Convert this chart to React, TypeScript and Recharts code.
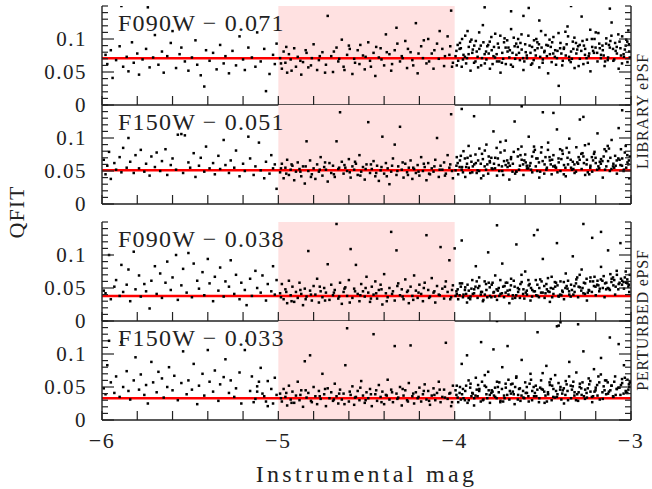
import React from "react";
import { ScatterChart, Scatter, XAxis, YAxis, ReferenceArea, ReferenceLine } from "recharts";

// x ticks every 0.2 mag, labels on the integers only
const xTicks = [-6, -5.8, -5.6, -5.4, -5.2, -5, -4.8, -4.6, -4.4, -4.2, -4, -3.8, -3.6, -3.4, -3.2, -3];
const yTicks = [0, 0.01, 0.02, 0.03, 0.04, 0.05, 0.06, 0.07, 0.08, 0.09, 0.1, 0.11, 0.12, 0.13, 0.14, 0.15];
const yLabelTicks = [0, 0.05, 0.1];
const yLabelText = ["0", "0.05", "0.1"];

const filters = ["F090W", "F150W", "F090W", "F150W"];
const fits = [0.071, 0.051, 0.038, 0.033];
const psfNames = ["LIBRARY ePSF", "PERTURBED ePSF"];
const shade = [-5, -4];

type Pt = [number, number];

const libF090W: Pt[] = [
  [-5.98, 0.076], [-5.97, 0.062], [-5.95, 0.083], [-5.94, 0.041], [-5.92, 0.068], [-5.9, 0.089], [-5.89, 0.15], [-5.88, 0.058], [-5.86, 0.073], [-5.85, 0.051],
  [-5.83, 0.095], [-5.82, 0.064], [-5.8, 0.078], [-5.79, 0.046], [-5.77, 0.069], [-5.75, 0.085], [-5.74, 0.148], [-5.73, 0.057], [-5.71, 0.072], [-5.7, 0.106],
  [-5.68, 0.061], [-5.66, 0.081], [-5.65, 0.049], [-5.63, 0.074], [-5.61, 0.094], [-5.6, 0.112], [-5.58, 0.056], [-5.56, 0.077], [-5.55, 0.087], [-5.53, 0.066],
  [-5.51, 0.052], [-5.49, 0.072], [-5.47, 0.098], [-5.46, 0.061], [-5.44, 0.045], [-5.42, 0.028], [-5.41, 0.083], [-5.39, 0.067], [-5.37, 0.079], [-5.35, 0.054],
  [-5.33, 0.091], [-5.31, 0.063], [-5.3, 0.074], [-5.28, 0.048], [-5.26, 0.082], [-5.24, 0.06], [-5.22, 0.104], [-5.2, 0.069], [-5.19, 0.053], [-5.17, 0.087],
  [-5.15, 0.072], [-5.13, 0.058], [-5.12, 0.11], [-5.1, 0.066], [-5.08, 0.085], [-5.07, 0.021], [-5.05, 0.047], [-5.03, 0.076], [-5.02, 0.062], [-5.01, 0.093],
  [-4.99, 0.071], [-4.98, 0.055], [-4.97, 0.081], [-4.96, 0.064], [-4.95, 0.049], [-4.94, 0.077], [-4.93, 0.069], [-4.91, 0.086], [-4.9, 0.058], [-4.89, 0.073],
  [-4.87, 0.046], [-4.86, 0.065], [-4.84, 0.079], [-4.83, 0.057], [-4.81, 0.071], [-4.8, 0.092], [-4.78, 0.053], [-4.77, 0.068], [-4.75, 0.08], [-4.73, 0.061],
  [-4.72, 0.135], [-4.7, 0.074], [-4.69, 0.05], [-4.67, 0.087], [-4.66, 0.066], [-4.64, 0.099], [-4.63, 0.058], [-4.61, 0.076], [-4.6, 0.09], [-4.58, 0.047],
  [-4.57, 0.07], [-4.55, 0.083], [-4.54, 0.062], [-4.52, 0.075], [-4.51, 0.054], [-4.49, 0.095], [-4.48, 0.067], [-4.46, 0.079], [-4.45, 0.044], [-4.43, 0.072],
  [-4.42, 0.086], [-4.4, 0.06], [-4.39, 0.107], [-4.37, 0.077], [-4.36, 0.052], [-4.34, 0.083], [-4.33, 0.117], [-4.31, 0.066], [-4.3, 0.074], [-4.28, 0.097],
  [-4.27, 0.056], [-4.25, 0.08], [-4.24, 0.068], [-4.22, 0.124], [-4.21, 0.048], [-4.19, 0.089], [-4.18, 0.071], [-4.16, 0.063], [-4.15, 0.1], [-4.13, 0.078],
  [-4.12, 0.055], [-4.1, 0.093], [-4.09, 0.07], [-4.07, 0.085], [-4.06, 0.059], [-4.04, 0.104], [-4.03, 0.076], [-4.02, 0.143], [-4.01, 0.064],
  [-4.985, 0.063], [-4.955, 0.088], [-4.925, 0.052], [-4.875, 0.067], [-4.845, 0.083], [-4.815, 0.06], [-4.765, 0.074], [-4.735, 0.049], [-4.685, 0.081], [-4.655, 0.07],
  [-4.625, 0.053], [-4.595, 0.085], [-4.565, 0.064], [-4.535, 0.091], [-4.505, 0.073], [-4.475, 0.058], [-4.445, 0.088], [-4.415, 0.069], [-4.385, 0.08], [-4.355, 0.062],
  [-4.325, 0.093], [-4.295, 0.071], [-4.265, 0.085], [-4.235, 0.06], [-4.205, 0.078], [-4.175, 0.098], [-4.145, 0.066], [-4.115, 0.083], [-4.085, 0.112], [-4.055, 0.074],
  [-4.025, 0.089], [-4.015, 0.058],
  [-3.99, 0.082], [-3.98, 0.067], [-3.97, 0.094], [-3.96, 0.058], [-3.95, 0.076], [-3.94, 0.105], [-3.93, 0.071], [-3.92, 0.088], [-3.91, 0.052], [-3.9, 0.079],
  [-3.89, 0.064], [-3.88, 0.097], [-3.87, 0.073], [-3.86, 0.085], [-3.85, 0.06], [-3.84, 0.121], [-3.83, 0.077], [-3.82, 0.069], [-3.81, 0.091], [-3.8, 0.055],
  [-3.79, 0.083], [-3.78, 0.074], [-3.77, 0.108], [-3.76, 0.066], [-3.75, 0.087], [-3.74, 0.049], [-3.73, 0.079], [-3.72, 0.095], [-3.71, 0.062], [-3.7, 0.081],
  [-3.69, 0.072], [-3.68, 0.115], [-3.67, 0.058], [-3.66, 0.089], [-3.65, 0.076], [-3.64, 0.1], [-3.63, 0.068], [-3.62, 0.084], [-3.61, 0.053], [-3.6, 0.092],
  [-3.59, 0.071], [-3.58, 0.147], [-3.57, 0.079], [-3.56, 0.063], [-3.55, 0.098], [-3.54, 0.075], [-3.53, 0.086], [-3.52, 0.057], [-3.51, 0.112], [-3.5, 0.069],
  [-3.49, 0.082], [-3.48, 0.091], [-3.47, 0.048], [-3.46, 0.077], [-3.45, 0.065], [-3.44, 0.103], [-3.43, 0.083], [-3.42, 0.071], [-3.41, 0.029], [-3.4, 0.094],
  [-3.39, 0.06], [-3.38, 0.087], [-3.37, 0.075], [-3.36, 0.119], [-3.35, 0.068], [-3.34, 0.081], [-3.33, 0.096], [-3.32, 0.056], [-3.31, 0.078], [-3.3, 0.089],
  [-3.29, 0.07], [-3.28, 0.134], [-3.27, 0.062], [-3.26, 0.085], [-3.25, 0.099], [-3.24, 0.074], [-3.23, 0.051], [-3.22, 0.088], [-3.21, 0.079], [-3.2, 0.11],
  [-3.19, 0.066], [-3.18, 0.093], [-3.17, 0.076], [-3.16, 0.083], [-3.15, 0.059], [-3.14, 0.101], [-3.13, 0.072], [-3.12, 0.087], [-3.11, 0.125], [-3.1, 0.067],
  [-3.09, 0.094], [-3.08, 0.078], [-3.07, 0.055], [-3.06, 0.086], [-3.05, 0.104], [-3.04, 0.073], [-3.03, 0.09], [-3.02, 0.065], [-3.01, 0.081],
  [-3.995, 0.074], [-3.965, 0.086], [-3.935, 0.063], [-3.905, 0.099], [-3.875, 0.081], [-3.845, 0.071], [-3.815, 0.089], [-3.785, 0.062], [-3.755, 0.093], [-3.725, 0.07],
  [-3.695, 0.087], [-3.665, 0.102], [-3.635, 0.079], [-3.605, 0.066], [-3.575, 0.09], [-3.545, 0.083], [-3.515, 0.073], [-3.485, 0.106], [-3.455, 0.088], [-3.425, 0.061],
  [-3.395, 0.078], [-3.365, 0.092], [-3.335, 0.07], [-3.305, 0.084], [-3.275, 0.097], [-3.245, 0.064], [-3.215, 0.082], [-3.185, 0.109], [-3.155, 0.075], [-3.125, 0.091],
  [-3.095, 0.069], [-3.065, 0.096], [-3.035, 0.084], [-3.015, 0.113],
  [-3.983, 0.091], [-3.953, 0.069], [-3.927, 0.112], [-3.897, 0.084], [-3.867, 0.057], [-3.837, 0.095], [-3.807, 0.078], [-3.777, 0.088], [-3.747, 0.066], [-3.717, 0.101],
  [-3.687, 0.083], [-3.657, 0.07], [-3.627, 0.094], [-3.597, 0.08], [-3.567, 0.061], [-3.537, 0.1], [-3.507, 0.087], [-3.477, 0.074], [-3.447, 0.095], [-3.417, 0.082],
  [-3.387, 0.067], [-3.357, 0.104], [-3.327, 0.085], [-3.297, 0.059], [-3.267, 0.09], [-3.237, 0.078], [-3.207, 0.1], [-3.177, 0.086], [-3.147, 0.066], [-3.117, 0.097],
  [-3.087, 0.082], [-3.057, 0.075], [-3.027, 0.099], [-3.007, 0.072],
  [-3.988, 0.06], [-3.958, 0.1], [-3.921, 0.077], [-3.889, 0.09], [-3.861, 0.11], [-3.829, 0.063], [-3.801, 0.096], [-3.771, 0.072], [-3.741, 0.105], [-3.711, 0.087],
  [-3.681, 0.061], [-3.651, 0.093], [-3.621, 0.107], [-3.591, 0.075], [-3.561, 0.088], [-3.531, 0.095], [-3.501, 0.064], [-3.471, 0.09], [-3.441, 0.078], [-3.411, 0.109],
  [-3.381, 0.085], [-3.351, 0.073], [-3.321, 0.102], [-3.291, 0.091], [-3.261, 0.076], [-3.231, 0.114], [-3.201, 0.087], [-3.171, 0.071], [-3.141, 0.093], [-3.111, 0.105],
  [-3.081, 0.088], [-3.051, 0.063], [-3.021, 0.096],
  [-3.972, 0.085], [-3.942, 0.073], [-3.912, 0.096], [-3.882, 0.066], [-3.852, 0.09], [-3.822, 0.081], [-3.792, 0.103], [-3.762, 0.077], [-3.732, 0.064], [-3.702, 0.098],
  [-3.672, 0.079], [-3.642, 0.088], [-3.612, 0.071], [-3.582, 0.105], [-3.552, 0.068], [-3.522, 0.092], [-3.492, 0.08], [-3.462, 0.099], [-3.432, 0.073], [-3.402, 0.086],
  [-3.372, 0.111], [-3.342, 0.065], [-3.312, 0.094], [-3.282, 0.082], [-3.252, 0.071], [-3.222, 0.1], [-3.192, 0.079], [-3.162, 0.09], [-3.132, 0.068], [-3.102, 0.085],
  [-3.072, 0.107], [-3.042, 0.077], [-3.012, 0.092],
  [-3.83, 0.148], [-3.68, 0.142], [-3.34, 0.15], [-3.12, 0.146], [-3.61, 0.135], [-3.52, 0.128],
];

const libF150W: Pt[] = [
  [-5.99, 0.067], [-5.98, 0.045], [-5.97, 0.058], [-5.96, 0.079], [-5.95, 0.038], [-5.93, 0.062], [-5.92, 0.052], [-5.9, 0.071], [-5.89, 0.048], [-5.88, 0.085],
  [-5.86, 0.055], [-5.85, 0.1], [-5.84, 0.064], [-5.82, 0.047], [-5.81, 0.074], [-5.79, 0.054], [-5.78, 0.082], [-5.76, 0.049], [-5.75, 0.061], [-5.73, 0.043],
  [-5.72, 0.072], [-5.7, 0.056], [-5.69, 0.078], [-5.67, 0.05], [-5.66, 0.065], [-5.64, 0.083], [-5.63, 0.044], [-5.61, 0.059], [-5.6, 0.069], [-5.58, 0.052],
  [-5.57, 0.105], [-5.55, 0.106], [-5.54, 0.047], [-5.53, 0.104], [-5.51, 0.063], [-5.5, 0.055], [-5.48, 0.077], [-5.47, 0.041], [-5.45, 0.058], [-5.44, 0.07],
  [-5.42, 0.049], [-5.41, 0.087], [-5.39, 0.054], [-5.37, 0.062], [-5.36, 0.045], [-5.34, 0.073], [-5.33, 0.053], [-5.31, 0.097], [-5.3, 0.059], [-5.28, 0.047],
  [-5.27, 0.066], [-5.25, 0.055], [-5.24, 0.081], [-5.22, 0.042], [-5.2, 0.061], [-5.19, 0.05], [-5.17, 0.102], [-5.16, 0.069], [-5.14, 0.044], [-5.13, 0.057],
  [-5.11, 0.093], [-5.1, 0.051], [-5.08, 0.039], [-5.07, 0.064], [-5.05, 0.046], [-5.04, 0.074], [-5.03, 0.054], [-5.02, 0.06], [-5.01, 0.023],
  [-4.99, 0.048], [-4.98, 0.061], [-4.97, 0.039], [-4.96, 0.055], [-4.95, 0.067], [-4.94, 0.044], [-4.93, 0.052], [-4.92, 0.058], [-4.91, 0.036], [-4.9, 0.049],
  [-4.89, 0.063], [-4.88, 0.053], [-4.87, 0.042], [-4.86, 0.057], [-4.85, 0.031], [-4.84, 0.095], [-4.83, 0.05], [-4.82, 0.066], [-4.81, 0.045], [-4.8, 0.054],
  [-4.79, 0.038], [-4.78, 0.06], [-4.77, 0.049], [-4.76, 0.071], [-4.75, 0.043], [-4.74, 0.056], [-4.73, 0.052], [-4.72, 0.034], [-4.71, 0.062], [-4.7, 0.047],
  [-4.69, 0.058], [-4.68, 0.041], [-4.67, 0.095], [-4.66, 0.053], [-4.65, 0.139], [-4.64, 0.064], [-4.63, 0.046], [-4.62, 0.055], [-4.61, 0.05], [-4.6, 0.068],
  [-4.59, 0.04], [-4.58, 0.057], [-4.57, 0.052], [-4.56, 0.061], [-4.55, 0.044], [-4.54, 0.074], [-4.53, 0.049], [-4.52, 0.056], [-4.51, 0.037], [-4.5, 0.06],
  [-4.49, 0.124], [-4.48, 0.047], [-4.47, 0.053], [-4.46, 0.065], [-4.45, 0.042], [-4.44, 0.058], [-4.43, 0.035], [-4.42, 0.051], [-4.41, 0.102], [-4.4, 0.046],
  [-4.39, 0.062], [-4.38, 0.054], [-4.37, 0.03], [-4.36, 0.049], [-4.35, 0.069], [-4.34, 0.09], [-4.33, 0.044], [-4.32, 0.057], [-4.31, 0.117], [-4.3, 0.052],
  [-4.29, 0.04], [-4.28, 0.061], [-4.27, 0.048], [-4.26, 0.055], [-4.25, 0.066], [-4.24, 0.038], [-4.23, 0.053], [-4.22, 0.047], [-4.21, 0.059], [-4.2, 0.043],
  [-4.19, 0.071], [-4.18, 0.05], [-4.17, 0.056], [-4.16, 0.036], [-4.15, 0.062], [-4.14, 0.045], [-4.13, 0.054], [-4.12, 0.049], [-4.11, 0.067], [-4.1, 0.1],
  [-4.09, 0.041], [-4.08, 0.058], [-4.07, 0.052], [-4.06, 0.063], [-4.05, 0.046], [-4.04, 0.074], [-4.03, 0.055], [-4.02, 0.136], [-4.01, 0.039],
  [-4.985, 0.054], [-4.955, 0.046], [-4.925, 0.06], [-4.875, 0.049], [-4.845, 0.057], [-4.815, 0.041], [-4.765, 0.052], [-4.735, 0.063], [-4.685, 0.045], [-4.655, 0.055],
  [-4.625, 0.059], [-4.595, 0.048], [-4.565, 0.064], [-4.535, 0.043], [-4.505, 0.053], [-4.475, 0.06], [-4.445, 0.047], [-4.415, 0.056], [-4.385, 0.042], [-4.355, 0.058],
  [-4.325, 0.05], [-4.295, 0.063], [-4.265, 0.044], [-4.235, 0.055], [-4.205, 0.049], [-4.175, 0.061], [-4.145, 0.046], [-4.115, 0.057], [-4.085, 0.052], [-4.055, 0.043],
  [-4.025, 0.06], [-4.015, 0.05],
  [-3.99, 0.058], [-3.98, 0.045], [-3.97, 0.066], [-3.96, 0.052], [-3.95, 0.08], [-3.94, 0.041], [-3.93, 0.061], [-3.92, 0.055], [-3.91, 0.073], [-3.9, 0.048],
  [-3.89, 0.133], [-3.88, 0.062], [-3.87, 0.051], [-3.86, 0.084], [-3.85, 0.039], [-3.84, 0.068], [-3.83, 0.057], [-3.82, 0.09], [-3.81, 0.046], [-3.8, 0.063],
  [-3.79, 0.054], [-3.78, 0.11], [-3.77, 0.07], [-3.76, 0.043], [-3.75, 0.059], [-3.74, 0.078], [-3.73, 0.05], [-3.72, 0.065], [-3.71, 0.096], [-3.7, 0.056],
  [-3.69, 0.037], [-3.68, 0.071], [-3.67, 0.061], [-3.66, 0.125], [-3.65, 0.049], [-3.64, 0.083], [-3.63, 0.058], [-3.62, 0.067], [-3.61, 0.044], [-3.6, 0.075],
  [-3.59, 0.054], [-3.58, 0.102], [-3.57, 0.062], [-3.56, 0.048], [-3.55, 0.087], [-3.54, 0.057], [-3.53, 0.069], [-3.52, 0.04], [-3.51, 0.078], [-3.5, 0.139],
  [-3.49, 0.06], [-3.48, 0.052], [-3.47, 0.093], [-3.46, 0.066], [-3.45, 0.045], [-3.44, 0.074], [-3.43, 0.056], [-3.42, 0.113], [-3.41, 0.063], [-3.4, 0.05],
  [-3.39, 0.081], [-3.38, 0.059], [-3.37, 0.042], [-3.36, 0.07], [-3.35, 0.099], [-3.34, 0.055], [-3.33, 0.064], [-3.32, 0.047], [-3.31, 0.086], [-3.3, 0.061],
  [-3.29, 0.128], [-3.28, 0.053], [-3.27, 0.072], [-3.26, 0.044], [-3.25, 0.067], [-3.24, 0.091], [-3.23, 0.058], [-3.22, 0.049], [-3.21, 0.076], [-3.2, 0.062],
  [-3.19, 0.107], [-3.18, 0.054], [-3.17, 0.068], [-3.16, 0.04], [-3.15, 0.083], [-3.14, 0.057], [-3.13, 0.065], [-3.12, 0.05], [-3.11, 0.097], [-3.1, 0.061],
  [-3.09, 0.073], [-3.08, 0.046], [-3.07, 0.115], [-3.06, 0.059], [-3.05, 0.069], [-3.04, 0.052], [-3.03, 0.088], [-3.02, 0.063], [-3.01, 0.039],
  [-3.995, 0.051], [-3.965, 0.073], [-3.935, 0.056], [-3.905, 0.064], [-3.875, 0.047], [-3.845, 0.076], [-3.815, 0.06], [-3.785, 0.053], [-3.755, 0.069], [-3.725, 0.044],
  [-3.695, 0.062], [-3.665, 0.079], [-3.635, 0.052], [-3.605, 0.066], [-3.575, 0.058], [-3.545, 0.082], [-3.515, 0.049], [-3.485, 0.071], [-3.455, 0.06], [-3.425, 0.055],
  [-3.395, 0.068], [-3.365, 0.085], [-3.335, 0.052], [-3.305, 0.063], [-3.275, 0.077], [-3.245, 0.048], [-3.215, 0.066], [-3.185, 0.057], [-3.155, 0.072], [-3.125, 0.084],
  [-3.095, 0.055], [-3.065, 0.067], [-3.035, 0.078], [-3.015, 0.06],
  [-3.983, 0.062], [-3.953, 0.048], [-3.927, 0.07], [-3.897, 0.057], [-3.867, 0.066], [-3.837, 0.043], [-3.807, 0.072], [-3.777, 0.061], [-3.747, 0.05], [-3.717, 0.081],
  [-3.687, 0.058], [-3.657, 0.046], [-3.627, 0.074], [-3.597, 0.063], [-3.567, 0.052], [-3.537, 0.069], [-3.507, 0.086], [-3.477, 0.055], [-3.447, 0.067], [-3.417, 0.048],
  [-3.387, 0.076], [-3.357, 0.06], [-3.327, 0.053], [-3.297, 0.071], [-3.267, 0.062], [-3.237, 0.045], [-3.207, 0.079], [-3.177, 0.064], [-3.147, 0.052], [-3.117, 0.07],
  [-3.087, 0.058], [-3.057, 0.083], [-3.027, 0.055], [-3.007, 0.072],
  [-3.988, 0.071], [-3.958, 0.056], [-3.921, 0.088], [-3.889, 0.06], [-3.861, 0.05], [-3.829, 0.081], [-3.801, 0.065], [-3.771, 0.054], [-3.741, 0.094], [-3.711, 0.059],
  [-3.681, 0.068], [-3.651, 0.049], [-3.621, 0.087], [-3.591, 0.058], [-3.561, 0.072], [-3.531, 0.05], [-3.501, 0.065], [-3.471, 0.082], [-3.441, 0.057], [-3.411, 0.069],
  [-3.381, 0.045], [-3.351, 0.078], [-3.321, 0.06], [-3.291, 0.067], [-3.261, 0.089], [-3.231, 0.055], [-3.201, 0.07], [-3.171, 0.061], [-3.141, 0.08], [-3.111, 0.053],
  [-3.081, 0.066], [-3.051, 0.058], [-3.021, 0.074],
  [-3.972, 0.056], [-3.942, 0.069], [-3.912, 0.047], [-3.882, 0.075], [-3.852, 0.061], [-3.822, 0.052], [-3.792, 0.07], [-3.762, 0.085], [-3.732, 0.057], [-3.702, 0.066],
  [-3.672, 0.049], [-3.642, 0.072], [-3.612, 0.06], [-3.582, 0.054], [-3.552, 0.079], [-3.522, 0.063], [-3.492, 0.046], [-3.462, 0.071], [-3.432, 0.058], [-3.402, 0.083],
  [-3.372, 0.055], [-3.342, 0.067], [-3.312, 0.049], [-3.282, 0.076], [-3.252, 0.06], [-3.222, 0.071], [-3.192, 0.052], [-3.162, 0.065], [-3.132, 0.088], [-3.102, 0.057],
  [-3.072, 0.069], [-3.042, 0.05], [-3.012, 0.066],
  [-3.96, 0.144], [-3.62, 0.148], [-3.44, 0.138], [-3.27, 0.132], [-3.05, 0.142],
];

const pertF090W: Pt[] = [
  [-5.99, 0.046], [-5.98, 0.042], [-5.96, 0.1], [-5.95, 0.033], [-5.93, 0.052], [-5.92, 0.062], [-5.9, 0.038], [-5.89, 0.085], [-5.88, 0.044], [-5.86, 0.055],
  [-5.85, 0.078], [-5.84, 0.03], [-5.82, 0.105], [-5.81, 0.048], [-5.79, 0.069], [-5.78, 0.037], [-5.76, 0.056], [-5.75, 0.045], [-5.73, 0.019], [-5.72, 0.061],
  [-5.7, 0.083], [-5.69, 0.041], [-5.67, 0.072], [-5.66, 0.035], [-5.64, 0.058], [-5.63, 0.09], [-5.61, 0.047], [-5.6, 0.066], [-5.58, 0.1], [-5.57, 0.032],
  [-5.55, 0.054], [-5.54, 0.079], [-5.52, 0.043], [-5.51, 0.103], [-5.49, 0.036], [-5.48, 0.087], [-5.46, 0.061], [-5.45, 0.049], [-5.43, 0.074], [-5.42, 0.039],
  [-5.4, 0.094], [-5.39, 0.057], [-5.37, 0.03], [-5.36, 0.067], [-5.34, 0.046], [-5.33, 0.081], [-5.31, 0.037], [-5.3, 0.06], [-5.28, 0.052], [-5.27, 0.092],
  [-5.25, 0.041], [-5.24, 0.07], [-5.22, 0.033], [-5.21, 0.058], [-5.19, 0.047], [-5.18, 0.024], [-5.16, 0.064], [-5.15, 0.038], [-5.13, 0.076], [-5.12, 0.05],
  [-5.1, 0.043], [-5.09, 0.069], [-5.07, 0.031], [-5.06, 0.056], [-5.04, 0.045], [-5.03, 0.083], [-5.02, 0.04], [-5.01, 0.062],
  [-4.99, 0.042], [-4.98, 0.056], [-4.97, 0.033], [-4.96, 0.048], [-4.95, 0.027], [-4.94, 0.061], [-4.93, 0.039], [-4.92, 0.052], [-4.91, 0.029], [-4.9, 0.044],
  [-4.89, 0.035], [-4.88, 0.058], [-4.87, 0.041], [-4.86, 0.024], [-4.85, 0.049], [-4.84, 0.037], [-4.83, 0.106], [-4.82, 0.046], [-4.81, 0.031], [-4.8, 0.053],
  [-4.79, 0.04], [-4.78, 0.064], [-4.77, 0.028], [-4.76, 0.045], [-4.75, 0.036], [-4.74, 0.05], [-4.73, 0.043], [-4.72, 0.086], [-4.71, 0.032], [-4.7, 0.055],
  [-4.69, 0.039], [-4.68, 0.047], [-4.67, 0.147], [-4.66, 0.034], [-4.65, 0.058], [-4.64, 0.026], [-4.63, 0.044], [-4.62, 0.051], [-4.61, 0.038], [-4.6, 0.062],
  [-4.59, 0.109], [-4.58, 0.035], [-4.57, 0.049], [-4.56, 0.085], [-4.55, 0.041], [-4.54, 0.03], [-4.53, 0.056], [-4.52, 0.045], [-4.51, 0.037], [-4.5, 0.067],
  [-4.49, 0.043], [-4.48, 0.029], [-4.47, 0.052], [-4.46, 0.04], [-4.45, 0.06], [-4.44, 0.034], [-4.43, 0.047], [-4.42, 0.055], [-4.41, 0.025], [-4.4, 0.071],
  [-4.39, 0.042], [-4.38, 0.036], [-4.37, 0.05], [-4.36, 0.135], [-4.35, 0.045], [-4.34, 0.031], [-4.33, 0.107], [-4.32, 0.057], [-4.31, 0.039], [-4.3, 0.048],
  [-4.29, 0.033], [-4.28, 0.063], [-4.27, 0.044], [-4.26, 0.027], [-4.25, 0.052], [-4.24, 0.038], [-4.23, 0.069], [-4.22, 0.046], [-4.21, 0.035], [-4.2, 0.055],
  [-4.19, 0.041], [-4.18, 0.03], [-4.17, 0.058], [-4.16, 0.13], [-4.15, 0.047], [-4.14, 0.037], [-4.13, 0.065], [-4.12, 0.043], [-4.11, 0.028], [-4.1, 0.053],
  [-4.09, 0.04], [-4.08, 0.112], [-4.07, 0.049], [-4.06, 0.034], [-4.05, 0.06], [-4.04, 0.044], [-4.03, 0.092], [-4.02, 0.036], [-4.01, 0.054], [-4.0, 0.11],
  [-4.985, 0.036], [-4.955, 0.044], [-4.925, 0.03], [-4.875, 0.047], [-4.845, 0.033], [-4.815, 0.04], [-4.765, 0.052], [-4.735, 0.031], [-4.685, 0.043], [-4.655, 0.037],
  [-4.625, 0.049], [-4.595, 0.028], [-4.565, 0.045], [-4.535, 0.039], [-4.505, 0.05], [-4.475, 0.034], [-4.445, 0.042], [-4.415, 0.048], [-4.385, 0.03], [-4.355, 0.041],
  [-4.325, 0.053], [-4.295, 0.037], [-4.265, 0.046], [-4.235, 0.032], [-4.205, 0.043], [-4.175, 0.05], [-4.145, 0.035], [-4.115, 0.045], [-4.085, 0.039], [-4.055, 0.052],
  [-4.025, 0.033], [-4.015, 0.047],
  [-3.99, 0.045], [-3.98, 0.033], [-3.97, 0.057], [-3.96, 0.122], [-3.95, 0.04], [-3.94, 0.051], [-3.93, 0.028], [-3.92, 0.046], [-3.91, 0.037], [-3.9, 0.062],
  [-3.89, 0.042], [-3.88, 0.083], [-3.87, 0.035], [-3.86, 0.053], [-3.85, 0.044], [-3.84, 0.03], [-3.83, 0.06], [-3.82, 0.047], [-3.81, 0.104], [-3.8, 0.038],
  [-3.79, 0.055], [-3.78, 0.043], [-3.77, 0.069], [-3.76, 0.032], [-3.75, 0.05], [-3.74, 0.041], [-3.73, 0.087], [-3.72, 0.036], [-3.71, 0.058], [-3.7, 0.046],
  [-3.69, 0.027], [-3.68, 0.064], [-3.67, 0.039], [-3.66, 0.052], [-3.65, 0.116], [-3.64, 0.044], [-3.63, 0.035], [-3.62, 0.059], [-3.61, 0.048], [-3.6, 0.075],
  [-3.59, 0.04], [-3.58, 0.054], [-3.57, 0.031], [-3.56, 0.047], [-3.55, 0.13], [-3.54, 0.062], [-3.53, 0.038], [-3.52, 0.05], [-3.51, 0.043], [-3.5, 0.094],
  [-3.49, 0.035], [-3.48, 0.056], [-3.47, 0.045], [-3.46, 0.029], [-3.45, 0.067], [-3.44, 0.041], [-3.43, 0.052], [-3.42, 0.118], [-3.41, 0.037], [-3.4, 0.06],
  [-3.39, 0.046], [-3.38, 0.033], [-3.37, 0.072], [-3.36, 0.049], [-3.35, 0.04], [-3.34, 0.055], [-3.33, 0.098], [-3.32, 0.044], [-3.31, 0.063], [-3.3, 0.036],
  [-3.29, 0.051], [-3.28, 0.078], [-3.27, 0.042], [-3.26, 0.057], [-3.25, 0.031], [-3.24, 0.047], [-3.23, 0.066], [-3.22, 0.126], [-3.21, 0.053], [-3.2, 0.039],
  [-3.19, 0.061], [-3.18, 0.045], [-3.17, 0.082], [-3.16, 0.05], [-3.15, 0.036], [-3.14, 0.058], [-3.13, 0.107], [-3.12, 0.047], [-3.11, 0.064], [-3.1, 0.054],
  [-3.09, 0.04], [-3.08, 0.07], [-3.07, 0.056], [-3.06, 0.118], [-3.05, 0.061], [-3.04, 0.049], [-3.03, 0.075], [-3.02, 0.057], [-3.01, 0.044],
  [-3.995, 0.038], [-3.965, 0.052], [-3.935, 0.041], [-3.905, 0.049], [-3.875, 0.06], [-3.845, 0.044], [-3.815, 0.036], [-3.785, 0.058], [-3.755, 0.046], [-3.725, 0.052],
  [-3.695, 0.04], [-3.665, 0.061], [-3.635, 0.048], [-3.605, 0.034], [-3.575, 0.056], [-3.545, 0.045], [-3.515, 0.063], [-3.485, 0.042], [-3.455, 0.05], [-3.425, 0.058],
  [-3.395, 0.039], [-3.365, 0.053], [-3.335, 0.047], [-3.305, 0.066], [-3.275, 0.05], [-3.245, 0.043], [-3.215, 0.06], [-3.185, 0.054], [-3.155, 0.068], [-3.125, 0.049],
  [-3.095, 0.062], [-3.065, 0.058], [-3.035, 0.066], [-3.015, 0.052],
  [-3.983, 0.048], [-3.953, 0.036], [-3.927, 0.055], [-3.897, 0.041], [-3.867, 0.05], [-3.837, 0.032], [-3.807, 0.058], [-3.777, 0.044], [-3.747, 0.038], [-3.717, 0.053],
  [-3.687, 0.047], [-3.657, 0.035], [-3.627, 0.056], [-3.597, 0.043], [-3.567, 0.05], [-3.537, 0.039], [-3.507, 0.06], [-3.477, 0.048], [-3.447, 0.036], [-3.417, 0.054],
  [-3.387, 0.044], [-3.357, 0.061], [-3.327, 0.04], [-3.297, 0.052], [-3.267, 0.058], [-3.237, 0.046], [-3.207, 0.067], [-3.177, 0.049], [-3.147, 0.057], [-3.117, 0.071],
  [-3.087, 0.052], [-3.057, 0.064], [-3.027, 0.058], [-3.007, 0.07],
  [-3.988, 0.041], [-3.958, 0.057], [-3.921, 0.035], [-3.889, 0.048], [-3.861, 0.066], [-3.829, 0.04], [-3.801, 0.051], [-3.771, 0.037], [-3.741, 0.062], [-3.711, 0.043],
  [-3.681, 0.054], [-3.651, 0.039], [-3.621, 0.07], [-3.591, 0.046], [-3.561, 0.037], [-3.531, 0.055], [-3.501, 0.043], [-3.471, 0.065], [-3.441, 0.049], [-3.411, 0.038],
  [-3.381, 0.059], [-3.351, 0.045], [-3.321, 0.053], [-3.291, 0.07], [-3.261, 0.041], [-3.231, 0.06], [-3.201, 0.052], [-3.171, 0.063], [-3.141, 0.048], [-3.111, 0.059],
  [-3.081, 0.076], [-3.051, 0.055], [-3.021, 0.063],
  [-3.972, 0.039], [-3.942, 0.047], [-3.912, 0.033], [-3.882, 0.052], [-3.852, 0.04], [-3.822, 0.056], [-3.792, 0.036], [-3.762, 0.048], [-3.732, 0.042], [-3.702, 0.058],
  [-3.672, 0.034], [-3.642, 0.05], [-3.612, 0.041], [-3.582, 0.062], [-3.552, 0.045], [-3.522, 0.036], [-3.492, 0.053], [-3.462, 0.044], [-3.432, 0.059], [-3.402, 0.04],
  [-3.372, 0.05], [-3.342, 0.037], [-3.312, 0.057], [-3.282, 0.046], [-3.252, 0.064], [-3.222, 0.044], [-3.192, 0.055], [-3.162, 0.061], [-3.132, 0.05], [-3.102, 0.066],
  [-3.072, 0.048], [-3.042, 0.059], [-3.012, 0.055],
  [-3.76, 0.145], [-3.53, 0.138], [-3.27, 0.147], [-3.17, 0.135],
];

const pertF150W: Pt[] = [
  [-5.99, 0.048], [-5.98, 0.039], [-5.97, 0.083], [-5.96, 0.12], [-5.95, 0.057], [-5.93, 0.041], [-5.92, 0.066], [-5.9, 0.035], [-5.89, 0.118], [-5.88, 0.05],
  [-5.86, 0.074], [-5.85, 0.044], [-5.84, 0.031], [-5.82, 0.06], [-5.81, 0.095], [-5.79, 0.046], [-5.78, 0.069], [-5.76, 0.038], [-5.75, 0.053], [-5.74, 0.025],
  [-5.72, 0.088], [-5.71, 0.057], [-5.69, 0.042], [-5.68, 0.073], [-5.66, 0.063], [-5.65, 0.034], [-5.63, 0.05], [-5.62, 0.08], [-5.6, 0.045], [-5.59, 0.067],
  [-5.57, 0.03], [-5.55, 0.056], [-5.54, 0.104], [-5.52, 0.039], [-5.51, 0.06], [-5.49, 0.046], [-5.48, 0.085], [-5.46, 0.024], [-5.45, 0.052], [-5.43, 0.07],
  [-5.42, 0.037], [-5.4, 0.106], [-5.39, 0.058], [-5.37, 0.043], [-5.36, 0.075], [-5.34, 0.029], [-5.33, 0.054], [-5.31, 0.065], [-5.3, 0.092], [-5.28, 0.041],
  [-5.27, 0.06], [-5.25, 0.035], [-5.24, 0.048], [-5.22, 0.072], [-5.21, 0.025], [-5.19, 0.106], [-5.18, 0.12], [-5.16, 0.044], [-5.15, 0.066], [-5.13, 0.032],
  [-5.12, 0.051], [-5.1, 0.079], [-5.09, 0.04], [-5.07, 0.028], [-5.06, 0.059], [-5.04, 0.047], [-5.03, 0.025], [-5.02, 0.064], [-5.01, 0.038],
  [-5.14, 0.027], [-5.12, 0.043], [-5.08, 0.036], [-5.06, 0.021], [-5.11, 0.058],
  [-4.99, 0.04], [-4.98, 0.028], [-4.97, 0.047], [-4.96, 0.035], [-4.95, 0.022], [-4.94, 0.052], [-4.93, 0.031], [-4.92, 0.043], [-4.91, 0.026], [-4.9, 0.037],
  [-4.89, 0.058], [-4.88, 0.03], [-4.87, 0.045], [-4.86, 0.02], [-4.85, 0.089], [-4.84, 0.034], [-4.83, 0.041], [-4.82, 0.098], [-4.81, 0.027], [-4.8, 0.05],
  [-4.79, 0.036], [-4.78, 0.024], [-4.77, 0.044], [-4.76, 0.032], [-4.75, 0.07], [-4.74, 0.039], [-4.73, 0.021], [-4.72, 0.048], [-4.71, 0.033], [-4.7, 0.042],
  [-4.69, 0.029], [-4.68, 0.055], [-4.67, 0.036], [-4.66, 0.025], [-4.65, 0.046], [-4.64, 0.031], [-4.63, 0.04], [-4.62, 0.083], [-4.61, 0.139], [-4.6, 0.028],
  [-4.59, 0.038], [-4.58, 0.051], [-4.57, 0.023], [-4.56, 0.035], [-4.55, 0.044], [-4.54, 0.03], [-4.53, 0.059], [-4.52, 0.037], [-4.51, 0.026], [-4.5, 0.042],
  [-4.49, 0.033], [-4.48, 0.047], [-4.47, 0.021], [-4.46, 0.13], [-4.45, 0.039], [-4.44, 0.029], [-4.43, 0.053], [-4.42, 0.035], [-4.41, 0.043], [-4.4, 0.024],
  [-4.39, 0.038], [-4.38, 0.061], [-4.37, 0.031], [-4.36, 0.046], [-4.35, 0.027], [-4.34, 0.112], [-4.33, 0.04], [-4.32, 0.034], [-4.31, 0.05], [-4.3, 0.022],
  [-4.29, 0.037], [-4.28, 0.045], [-4.27, 0.03], [-4.26, 0.056], [-4.25, 0.113], [-4.24, 0.036], [-4.23, 0.025], [-4.22, 0.042], [-4.21, 0.033], [-4.2, 0.049],
  [-4.19, 0.028], [-4.18, 0.039], [-4.17, 0.054], [-4.16, 0.031], [-4.15, 0.044], [-4.14, 0.023], [-4.13, 0.037], [-4.12, 0.048], [-4.11, 0.03], [-4.1, 0.041],
  [-4.09, 0.058], [-4.08, 0.027], [-4.07, 0.035], [-4.06, 0.046], [-4.05, 0.117], [-4.04, 0.032], [-4.03, 0.04], [-4.02, 0.021], [-4.01, 0.052],
  [-4.985, 0.033], [-4.955, 0.041], [-4.925, 0.026], [-4.875, 0.038], [-4.845, 0.045], [-4.815, 0.029], [-4.765, 0.036], [-4.735, 0.047], [-4.685, 0.031], [-4.655, 0.04],
  [-4.625, 0.024], [-4.595, 0.043], [-4.565, 0.034], [-4.535, 0.049], [-4.505, 0.03], [-4.475, 0.039], [-4.445, 0.045], [-4.415, 0.027], [-4.385, 0.037], [-4.355, 0.042],
  [-4.325, 0.032], [-4.295, 0.047], [-4.265, 0.028], [-4.235, 0.04], [-4.205, 0.035], [-4.175, 0.044], [-4.145, 0.029], [-4.115, 0.038], [-4.085, 0.046], [-4.055, 0.034],
  [-4.025, 0.041], [-4.015, 0.027],
  [-3.99, 0.038], [-3.98, 0.027], [-3.97, 0.05], [-3.96, 0.085], [-3.95, 0.033], [-3.94, 0.044], [-3.93, 0.098], [-3.92, 0.03], [-3.91, 0.055], [-3.9, 0.041],
  [-3.89, 0.022], [-3.88, 0.064], [-3.87, 0.036], [-3.86, 0.047], [-3.85, 0.118], [-3.84, 0.03], [-3.83, 0.052], [-3.82, 0.039], [-3.81, 0.073], [-3.8, 0.026],
  [-3.79, 0.045], [-3.78, 0.107], [-3.77, 0.035], [-3.76, 0.058], [-3.75, 0.042], [-3.74, 0.029], [-3.73, 0.08], [-3.72, 0.037], [-3.71, 0.049], [-3.7, 0.112],
  [-3.69, 0.031], [-3.68, 0.054], [-3.67, 0.043], [-3.66, 0.024], [-3.65, 0.066], [-3.64, 0.038], [-3.63, 0.048], [-3.62, 0.091], [-3.61, 0.034], [-3.6, 0.057],
  [-3.59, 0.041], [-3.58, 0.028], [-3.57, 0.07], [-3.56, 0.044], [-3.55, 0.036], [-3.54, 0.052], [-3.53, 0.133], [-3.52, 0.033], [-3.51, 0.06], [-3.5, 0.046],
  [-3.49, 0.026], [-3.48, 0.082], [-3.47, 0.039], [-3.46, 0.053], [-3.45, 0.03], [-3.44, 0.047], [-3.43, 0.068], [-3.42, 0.035], [-3.41, 0.143], [-3.4, 0.05],
  [-3.39, 0.04], [-3.38, 0.025], [-3.37, 0.059], [-3.36, 0.044], [-3.35, 0.088], [-3.34, 0.033], [-3.33, 0.051], [-3.32, 0.042], [-3.31, 0.072], [-3.3, 0.029],
  [-3.29, 0.055], [-3.28, 0.038], [-3.27, 0.104], [-3.26, 0.046], [-3.25, 0.034], [-3.24, 0.063], [-3.23, 0.043], [-3.22, 0.027], [-3.21, 0.077], [-3.2, 0.049],
  [-3.19, 0.037], [-3.18, 0.057], [-3.17, 0.094], [-3.16, 0.032], [-3.15, 0.045], [-3.14, 0.06], [-3.13, 0.04], [-3.12, 0.125], [-3.11, 0.052], [-3.1, 0.035],
  [-3.09, 0.066], [-3.08, 0.047], [-3.07, 0.115], [-3.06, 0.038], [-3.05, 0.056], [-3.04, 0.083], [-3.03, 0.044], [-3.02, 0.061], [-3.01, 0.05],
  [-3.995, 0.045], [-3.965, 0.031], [-3.935, 0.052], [-3.905, 0.036], [-3.875, 0.046], [-3.845, 0.058], [-3.815, 0.033], [-3.785, 0.043], [-3.755, 0.05], [-3.725, 0.028],
  [-3.695, 0.061], [-3.665, 0.039], [-3.635, 0.047], [-3.605, 0.033], [-3.575, 0.055], [-3.545, 0.041], [-3.515, 0.049], [-3.485, 0.037], [-3.455, 0.062], [-3.425, 0.044],
  [-3.395, 0.031], [-3.365, 0.054], [-3.335, 0.046], [-3.305, 0.039], [-3.275, 0.057], [-3.245, 0.048], [-3.215, 0.036], [-3.185, 0.066], [-3.155, 0.051], [-3.125, 0.043],
  [-3.095, 0.058], [-3.065, 0.049], [-3.035, 0.064], [-3.015, 0.046],
  [-3.983, 0.034], [-3.953, 0.047], [-3.927, 0.026], [-3.897, 0.04], [-3.867, 0.053], [-3.837, 0.031], [-3.807, 0.045], [-3.777, 0.037], [-3.747, 0.057], [-3.717, 0.033],
  [-3.687, 0.044], [-3.657, 0.05], [-3.627, 0.029], [-3.597, 0.041], [-3.567, 0.061], [-3.537, 0.036], [-3.507, 0.047], [-3.477, 0.028], [-3.447, 0.052], [-3.417, 0.039],
  [-3.387, 0.045], [-3.357, 0.03], [-3.327, 0.058], [-3.297, 0.042], [-3.267, 0.036], [-3.237, 0.054], [-3.207, 0.043], [-3.177, 0.031], [-3.147, 0.06], [-3.117, 0.045],
  [-3.087, 0.038], [-3.057, 0.053], [-3.027, 0.042], [-3.007, 0.057],
  [-3.988, 0.052], [-3.958, 0.039], [-3.921, 0.06], [-3.889, 0.033], [-3.861, 0.044], [-3.829, 0.068], [-3.801, 0.038], [-3.771, 0.049], [-3.741, 0.027], [-3.711, 0.055],
  [-3.681, 0.04], [-3.651, 0.064], [-3.621, 0.037], [-3.591, 0.05], [-3.561, 0.03], [-3.531, 0.046], [-3.501, 0.071], [-3.471, 0.042], [-3.441, 0.035], [-3.411, 0.056],
  [-3.381, 0.048], [-3.351, 0.066], [-3.321, 0.037], [-3.291, 0.05], [-3.261, 0.032], [-3.231, 0.059], [-3.201, 0.045], [-3.171, 0.069], [-3.141, 0.039], [-3.111, 0.052],
  [-3.081, 0.047], [-3.051, 0.062], [-3.021, 0.041],
  [-3.972, 0.041], [-3.942, 0.03], [-3.912, 0.049], [-3.882, 0.037], [-3.852, 0.028], [-3.822, 0.05], [-3.792, 0.041], [-3.762, 0.033], [-3.732, 0.047], [-3.702, 0.038],
  [-3.672, 0.055], [-3.642, 0.031], [-3.612, 0.044], [-3.582, 0.036], [-3.552, 0.05], [-3.522, 0.027], [-3.492, 0.043], [-3.462, 0.057], [-3.432, 0.034], [-3.402, 0.046],
  [-3.372, 0.038], [-3.342, 0.052], [-3.312, 0.03], [-3.282, 0.048], [-3.252, 0.041], [-3.222, 0.035], [-3.192, 0.053], [-3.162, 0.042], [-3.132, 0.057], [-3.102, 0.036],
  [-3.072, 0.049], [-3.042, 0.04], [-3.012, 0.054],
  [-3.76, 0.15], [-3.4, 0.148], [-3.3, 0.145], [-3.42, 0.142],
];

const panelData = [libF090W, libF150W, pertF090W, pertF150W];

const W = 652;
const H = 489;
const PLOT_L = 102;
const PLOT_R = 631;
const PLOT_H = 99;
const panelTops = [6, 105, 222, 321];
const FRAME = "#222";
const FONT = "Liberation Serif";

const isMajorY = (v: number) => yLabelTicks.some((t) => Math.abs(t - v) < 1e-6);

const XTick = (props: any) => {
  const { x, y, payload, dir, showLabel } = props;
  const v = payload.value;
  const isInt = Math.abs(v - Math.round(v)) < 1e-6;
  return (
    <g>
      <line x1={x} x2={x} y1={y} y2={y + dir * 9} stroke={FRAME} strokeWidth={1.2} />
      {showLabel && isInt && (
        <text x={x} y={y + 28} textAnchor="middle" fontFamily={FONT} fontSize={22} letterSpacing={1.5} fill="#222">
          {"\u2212" + Math.abs(v)}
        </text>
      )}
    </g>
  );
};

const YTick = (props: any) => {
  const { x, y, payload, dir, showLabel } = props;
  const v = payload.value;
  const major = isMajorY(v);
  const idx = yLabelTicks.findIndex((t) => Math.abs(t - v) < 1e-6);
  return (
    <g>
      <line x1={x} x2={x + dir * (major ? 12 : 6)} y1={y} y2={y} stroke={FRAME} strokeWidth={1.2} />
      {showLabel && idx >= 0 && (
        <text x={x - 15} y={y + 7} textAnchor="end" fontFamily={FONT} fontSize={21} letterSpacing={1.5} fill="#222">
          {yLabelText[idx]}
        </text>
      )}
    </g>
  );
};

const Dot = (props: any) => {
  const { cx, cy } = props;
  return <rect x={cx - 1.25} y={cy - 1.25} width={2.5} height={2.5} fill="#000" />;
};

const Panel = ({ idx }: { idx: number }) => {
  const top = panelTops[idx];
  const last = idx === 3;
  const mTop = 6;
  const axisH = last ? H - top - PLOT_H : 14;
  const height = mTop + PLOT_H + axisH;
  const data = panelData[idx].map(([x, y]) => ({ x, y }));
  const axisLine = { stroke: FRAME, strokeWidth: 1.4 };
  return (
    <div style={{ position: "absolute", left: 0, top: top - mTop }}>
      <ScatterChart width={W} height={height} margin={{ top: mTop, right: 0, bottom: 0, left: 0 }}>
        <XAxis
          xAxisId="b"
          dataKey="x"
          type="number"
          domain={[-6, -3]}
          ticks={xTicks}
          interval={0}
          allowDataOverflow
          height={axisH}
          tickSize={0}
          tickMargin={0}
          tickLine={false}
          axisLine={axisLine}
          tick={(p: any) => <XTick {...p} dir={-1} showLabel={last} />}
        />
        <XAxis
          xAxisId="t"
          orientation="top"
          type="number"
          domain={[-6, -3]}
          ticks={xTicks}
          interval={0}
          allowDataOverflow
          height={0}
          tickSize={0}
          tickMargin={0}
          tickLine={false}
          axisLine={axisLine}
          tick={(p: any) => <XTick {...p} dir={1} showLabel={false} />}
        />
        <YAxis
          yAxisId="l"
          dataKey="y"
          type="number"
          domain={[0, 0.15]}
          ticks={yTicks}
          interval={0}
          allowDataOverflow
          width={PLOT_L}
          tickSize={0}
          tickMargin={0}
          tickLine={false}
          axisLine={axisLine}
          tick={(p: any) => <YTick {...p} dir={1} showLabel />}
        />
        <YAxis
          yAxisId="r"
          orientation="right"
          type="number"
          domain={[0, 0.15]}
          ticks={yTicks}
          interval={0}
          allowDataOverflow
          width={W - PLOT_R}
          tickSize={0}
          tickMargin={0}
          tickLine={false}
          axisLine={axisLine}
          tick={(p: any) => <YTick {...p} dir={-1} showLabel={false} />}
        />
        <ReferenceArea
          xAxisId="b"
          yAxisId="l"
          x1={shade[0]}
          x2={shade[1]}
          y1={0}
          y2={0.15}
          fill="#ffe1e1"
          fillOpacity={1}
          stroke="none"
        />
        <Scatter xAxisId="b" yAxisId="l" data={data} shape={Dot} isAnimationActive={false} />
        <ReferenceLine xAxisId="b" yAxisId="l" y={fits[idx]} stroke="#ff0000" strokeWidth={2.5} />
      </ScatterChart>
    </div>
  );
};

export default function App() {
  const textProps = { fontFamily: FONT, fill: "#222" };
  return (
    <div style={{ position: "absolute", left: 0, top: 0, width: W, height: H, background: "#fff", overflow: "hidden" }}>
      {[0, 1, 2, 3].map((i) => (
        <Panel key={i} idx={i} />
      ))}
      <svg width={W} height={H} style={{ position: "absolute", left: 0, top: 0, pointerEvents: "none" }}>
        {[0, 1, 2, 3].map((i) => (
          <text key={i} x={118} y={panelTops[i] + 25} fontSize={24} letterSpacing={1.2} {...textProps}>
            {`${filters[i]} \u2212 ${fits[i].toFixed(3)}`}
          </text>
        ))}
        <text x={24} y={212} fontSize={22} letterSpacing={1} textAnchor="middle" transform="rotate(-90 24 212)" {...textProps}>
          QFIT
        </text>
        <text x={648} y={111} fontSize={16} letterSpacing={0.8} textAnchor="middle" transform="rotate(-90 648 111)" {...textProps}>
          {psfNames[0]}
        </text>
        <text x={648} y={320} fontSize={16} letterSpacing={0.8} textAnchor="middle" transform="rotate(-90 648 320)" {...textProps}>
          {psfNames[1]}
        </text>
        <text x={(PLOT_L + PLOT_R) / 2} y={482} fontSize={24} letterSpacing={3.3} textAnchor="middle" {...textProps}>
          Instrumental mag
        </text>
      </svg>
    </div>
  );
}
